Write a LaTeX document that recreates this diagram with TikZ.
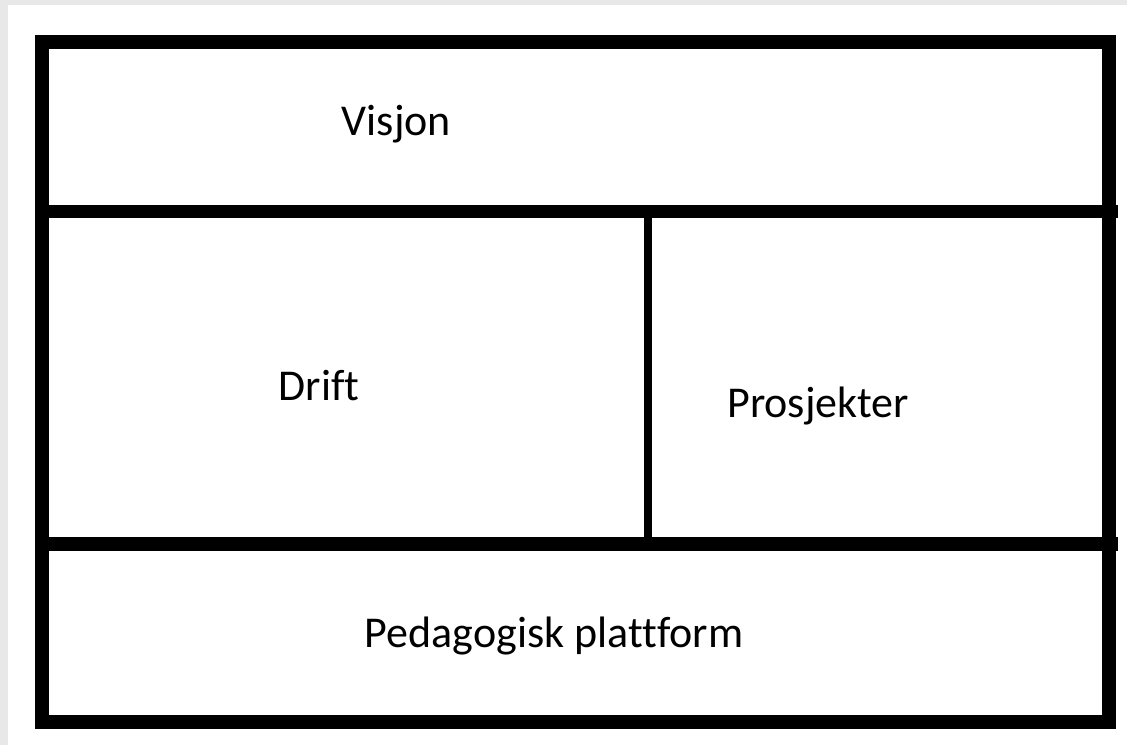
\documentclass[tikz,border=0pt]{standalone}
\usepackage{fontspec}
\setmainfont[Ligatures=NoCommon]{Carlito}
\usepackage{tikz}

\tikzset{
  part/.style={anchor=base, inner sep=0pt, font=\fontsize{44}{52}\selectfont},
}

\begin{document}
\begin{tikzpicture}[x=1pt, y=-1pt]
      % page background
      \fill[black!9] (0,0) rectangle (1127,745);
      \fill[white] (8,5) rectangle (1127,745);
      \useasboundingbox (0,0) rectangle (1127,745);
      % outer frame
      \draw[line width=14pt] (42,41.5) rectangle (1109,722);
      % dividers
      \draw[line width=13.5pt] (42,211.5) -- (1118,211.5);
      \draw[line width=13.5pt] (42,544)   -- (1118,544);
      \draw[line width=8pt]    (648,211.5) -- (648,544);
      % labels
      \node[part] (visjon)     at (396.5,135) {Visjon};
      \node[part] (drift)      at (319,400)   {Drift};
      \node[part] (prosjekter) at (818,417)   {Prosjekter};
      \node[part] (plattform)  at (554,647)   {Pedagogisk plattform};
\end{tikzpicture}
\end{document}
